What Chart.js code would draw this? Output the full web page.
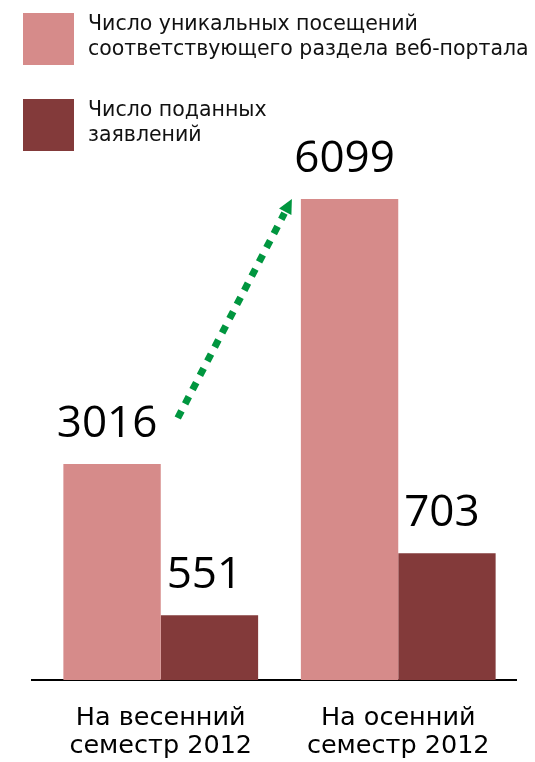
<!DOCTYPE html>
<html>
<head>
<meta charset="utf-8">
<script src="https://cdn.jsdelivr.net/npm/chart.js@4"></script>
<style>
  html, body { margin: 0; padding: 0; background: #fff; }
  #wrap { position: relative; width: 535px; height: 762px; }
  #legend { position: absolute; left: 0; top: 0; font-family: "DejaVu Sans", sans-serif; font-size: 20.5px; color: #111; }
  .item { position: absolute; left: 23px; width: 520px; }
  .box { position: absolute; left: 0; top: 0; width: 51px; height: 52px; }
  .txt { position: absolute; left: 65px; top: -2px; line-height: 25px; white-space: nowrap; }
</style>
</head>
<body>
<div id="wrap">
  <canvas id="chart" width="535" height="762"></canvas>
  <div id="legend"></div>
</div>
<script>
// данные
const categories = [['На весенний', 'семестр 2012'], ['На осенний', 'семестр 2012']];
const visitsLabel = ['Число уникальных посещений', 'соответствующего раздела веб-портала'];
const visits = [3016, 6099];
const appsLabel = ['Число поданных', 'заявлений'];
const apps = [551, 703];

const pink = '#d68b8a';
const darkRed = '#833a3a';
const green = '#00963f';

// легенда
const legendItems = [
  { lines: visitsLabel, color: pink, top: 13 },
  { lines: appsLabel, color: darkRed, top: 99 },
];
const legendEl = document.getElementById('legend');
legendItems.forEach((it) => {
  const d = document.createElement('div');
  d.className = 'item';
  d.style.top = it.top + 'px';
  d.innerHTML = `<div class="box" style="background:${it.color}"></div><div class="txt">${it.lines.join('<br>')}</div>`;
  legendEl.appendChild(d);
});

// подписи значений над столбцами
const valueLabels = {
  id: 'valueLabels',
  afterDatasetsDraw(chart) {
    const ctx = chart.ctx;
    ctx.save();
    ctx.fillStyle = '#000';
    ctx.font = '44px "Open Sans", sans-serif';
    ctx.textAlign = 'center';
    ctx.textBaseline = 'alphabetic';
    chart.data.datasets.forEach((ds, i) => {
      chart.getDatasetMeta(i).data.forEach((bar, j) => {
        ctx.fillText(String(ds.data[j]), bar.x - 5, bar.y - 27);
      });
    });
    ctx.restore();
  },
};

// базовая линия
const baseLine = {
  id: 'baseLine',
  beforeDatasetsDraw(chart) {
    const { ctx, chartArea } = chart;
    ctx.save();
    ctx.strokeStyle = '#000';
    ctx.lineWidth = 2;
    ctx.beginPath();
    ctx.moveTo(chartArea.left - 11, chartArea.bottom);
    ctx.lineTo(chartArea.right, chartArea.bottom);
    ctx.stroke();
    ctx.restore();
  },
};

// зелёная пунктирная стрелка роста
const growthArrow = {
  id: 'growthArrow',
  afterDatasetsDraw(chart) {
    const bars = chart.getDatasetMeta(0).data;
    const a = bars[0], b = bars[1];
    const x1 = a.x + a.width / 2 + 17, y1 = a.y - 46;
    const x2 = b.x - b.width / 2 - 9, y2 = b.y;
    const ang = Math.atan2(y2 - y1, x2 - x1);
    const head = 16;
    const ctx = chart.ctx;
    ctx.save();
    ctx.strokeStyle = green;
    ctx.fillStyle = green;
    ctx.lineWidth = 7;
    ctx.setLineDash([8, 8]);
    ctx.beginPath();
    ctx.moveTo(x1, y1);
    ctx.lineTo(x2 - Math.cos(ang) * head, y2 - Math.sin(ang) * head);
    ctx.stroke();
    ctx.setLineDash([]);
    ctx.beginPath();
    ctx.moveTo(x2, y2);
    ctx.lineTo(x2 - Math.cos(ang - 0.45) * head, y2 - Math.sin(ang - 0.45) * head);
    ctx.lineTo(x2 - Math.cos(ang + 0.45) * head, y2 - Math.sin(ang + 0.45) * head);
    ctx.closePath();
    ctx.fill();
    ctx.restore();
  },
};

new Chart(document.getElementById('chart'), {
  type: 'bar',
  data: {
    labels: categories,
    datasets: [
      { label: visitsLabel.join(' '), data: visits, backgroundColor: pink, yAxisID: 'y' },
      { label: appsLabel.join(' '), data: apps, backgroundColor: darkRed, yAxisID: 'y2' },
    ],
  },
  options: {
    responsive: false,
    animation: false,
    devicePixelRatio: 1,
    layout: { padding: { top: 180, left: 42, right: 18, bottom: 0 } },
    datasets: { bar: { barPercentage: 1, categoryPercentage: 0.82 } },
    plugins: { legend: { display: false }, tooltip: { enabled: false } },
    scales: {
      x: {
        grid: { display: false },
        border: { display: false },
        ticks: { color: '#000', font: { family: 'DejaVu Sans', size: 25.5, lineHeight: 1.12 }, padding: 16 },
        afterFit: (scale) => { scale.height = 82; },
      },
      // на картинке столбцы не в едином масштабе, поэтому у каждого ряда своя ось
      y: { display: false, min: 503, max: 6320 },
      y2: { display: false, min: 392, max: 1618 },
    },
  },
  plugins: [baseLine, valueLabels, growthArrow],
});
</script>
</body>
</html>
